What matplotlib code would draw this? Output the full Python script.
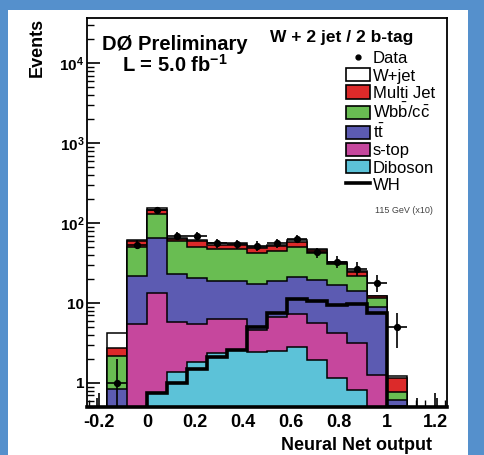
import numpy as np
import matplotlib
matplotlib.use('Agg')
import matplotlib.pyplot as plt
from matplotlib.patches import Patch, Rectangle
from matplotlib.lines import Line2D
from matplotlib.ticker import FixedLocator, LogLocator, MultipleLocator, NullFormatter, FuncFormatter

# binning of the neural net output
x_lo, x_hi, n_bins = -0.25, 1.25, 18

# backgrounds per bin (events)
diboson  = [0, 0, 0, 0.75, 1.38, 1.84, 2.35, 2.55, 2.45, 2.5, 2.8, 1.95, 1.15, 0.82, 0, 0, 0, 0]
stop     = [0, 0, 5.5, 12.8, 4.4, 3.7, 3.9, 3.7, 2.2, 4.1, 4.5, 3.6, 3.1, 2.3, 1.25, 0.52, 0, 0]
ttbar    = [0, 0.85, 16.5, 51.5, 17.2, 15.1, 12.8, 12.7, 12.7, 12.4, 13.7, 13.9, 12.8, 11.1, 7.8, 0.1, 0, 0]
wbb      = [0, 1.35, 29, 66, 36, 30.4, 28, 28.1, 24.7, 25.5, 30, 22.6, 13.6, 7.6, 2.6, 0.14, 0, 0]
multijet = [0, 0.5, 8, 16, 5, 8, 7, 7, 7, 7, 7, 4, 1.2, 2.6, 0.5, 0.39, 0, 0]
wjet     = [0, 1.5, 3, 6, 2, 2, 2, 2, 2, 2, 3, 1, 0.5, 0.6, 0.2, 0.07, 0, 0]
# signal WH 115 GeV (x10)
wh       = [0, 0, 0, 0.75, 1.0, 1.5, 2.1, 2.6, 5.0, 7.6, 11.3, 10.5, 9.5, 9.8, 7.5, 0, 0, 0]
# data
data     = [0, 1, 54, 147, 70, 70, 56, 55, 52, 56, 64, 43, 33, 27, 18, 5, 0, 0]
err_lo   = [0, 0.9, 7, 12, 8, 8, 7.5, 7.4, 7.2, 7.5, 8, 6.5, 5.7, 5.2, 4.2, 2.3, 0, 0]
err_hi   = [0.65, 1.0, 7, 12, 8, 8, 7.5, 7.4, 7.2, 7.5, 8, 6.5, 5.7, 5.2, 4.2, 2.5, 0.65, 0.65]

labels = ['W+jet', 'Multi Jet', r'Wb$\bar{b}$/c$\bar{c}$', r't$\bar{t}$', 's-top', 'Diboson']
colors = ['white', '#dc2a2a', '#69bd52', '#5c5bb2', '#c6479d', '#5cc2d8']

plt.rcParams['font.family'] = ['Liberation Sans', 'DejaVu Sans']
plt.rcParams['mathtext.fontset'] = 'custom'
plt.rcParams['mathtext.rm'] = 'Liberation Sans'
plt.rcParams['mathtext.bf'] = 'Liberation Sans:bold'
plt.rcParams['mathtext.default'] = 'regular'

fig = plt.figure(figsize=(4.84, 4.55), dpi=100, facecolor='#5590cc')
fig.patches.append(Rectangle((8/484, 0), 460/484, 445/455, transform=fig.transFigure,
                             facecolor='white', edgecolor='none', zorder=-10))
ax = fig.add_axes([87/484, 1-407/455, 360/484, 389/455])
ax.set_facecolor('white')

edges = np.linspace(x_lo, x_hi, n_bins + 1)
centers = 0.5 * (edges[1:] + edges[:-1])
halfw = 0.5 * (edges[1] - edges[0])

# stack, bottom to top: diboson, s-top, ttbar, wbb, multijet, wjet
comps = [diboson, stop, ttbar, wbb, multijet, wjet]
cum = np.cumsum(np.array(comps), axis=0)
floor = 1e-2
for i in range(len(comps) - 1, -1, -1):
    col = colors[len(comps) - 1 - i]
    ax.stairs(np.maximum(cum[i], floor), edges, baseline=floor, fill=True,
              facecolor=col, edgecolor='black', linewidth=1.1, zorder=2)

# WH line
ax.stairs(np.maximum(np.array(wh, float), floor), edges, baseline=None,
          color='black', linewidth=2.6, zorder=3)

# data points
d = np.array(data, float)
lo = np.array(err_lo, float)
hi = np.array(err_hi, float)
nz = d > 0
ax.vlines(centers, np.maximum(d - lo, floor), d + hi, color='black', lw=1.2, zorder=4)
ax.hlines(d[nz], centers[nz] - halfw, centers[nz] + halfw, color='black', lw=1.2, zorder=4)
ax.plot(centers[nz], d[nz], 'o', color='black', ms=4.2, zorder=5)

ax.set_yscale('log')
ax.set_xlim(x_lo, x_hi)
ax.set_ylim(0.5, 3.7e4)

ax.yaxis.set_major_locator(FixedLocator([1, 10, 100, 1000, 10000]))
ax.yaxis.set_major_formatter(FuncFormatter(
    lambda v, p: {1: '1', 10: '10'}.get(int(round(v)), r'$\mathbf{10^{%d}}$' % round(np.log10(v)))))
ax.yaxis.set_minor_locator(LogLocator(base=10, subs=np.arange(2, 10)))
ax.yaxis.set_minor_formatter(NullFormatter())
ax.xaxis.set_major_locator(MultipleLocator(0.2))
ax.xaxis.set_minor_locator(MultipleLocator(0.04))
ax.xaxis.set_major_formatter(FuncFormatter(lambda v, p: '%g' % round(v, 2)))

ax.tick_params(which='both', direction='in', top=False, right=False)
ax.tick_params(axis='y', which='major', length=9, width=1.2, labelsize=11, pad=2)
ax.tick_params(axis='y', which='minor', length=5, width=1.0)
ax.tick_params(axis='x', which='major', length=10, width=1.2, labelsize=13, pad=5)
ax.tick_params(axis='x', which='minor', length=5, width=1.0)
for lab in ax.get_xticklabels() + ax.get_yticklabels():
    lab.set_fontweight('bold')

for s in ax.spines.values():
    s.set_linewidth(1.3)
    s.set_zorder(6)
ax.spines['bottom'].set_linewidth(2.6)

fig.text(37/484, 1-18/455, 'Events', rotation=90, ha='center', va='top',
         fontsize=13, fontweight='bold')
fig.text(432/484, 1-445/455, 'Neural Net output', ha='right', va='center',
         fontsize=13, fontweight='bold')

ax.text(0.244, 0.932, 'D\u00d8 Preliminary', transform=ax.transAxes, ha='center',
        va='center', fontsize=14.5, fontweight='bold')
ax.text(0.244, 0.880, r'L = 5.0 fb$^{\mathbf{-1}}$', transform=ax.transAxes, ha='center',
        va='center', fontsize=14.5, fontweight='bold')
ax.text(0.707, 0.951, 'W + 2 jet / 2 b-tag', transform=ax.transAxes, ha='center',
        va='center', fontsize=12.5, fontweight='bold')

handles = [Line2D([], [], marker='o', color='black', ls='none', ms=3.5)]
handles += [Patch(facecolor=c, edgecolor='black', linewidth=1.2) for c in colors]
handles += [Line2D([], [], color='black', lw=2.6)]
leg = ax.legend(handles, ['Data'] + labels + ['WH'], loc='upper left',
                bbox_to_anchor=(0.72, 0.915), frameon=False, fontsize=12,
                labelspacing=0.1, handlelength=1.45, handleheight=0.85,
                handletextpad=0.15, borderpad=0, borderaxespad=0)
ax.text(0.80, 0.505, '115 GeV (x10)', transform=ax.transAxes, ha='left', va='center',
        fontsize=6.5, color='#444444')

fig.savefig('out.png', dpi=100, facecolor=fig.get_facecolor())
